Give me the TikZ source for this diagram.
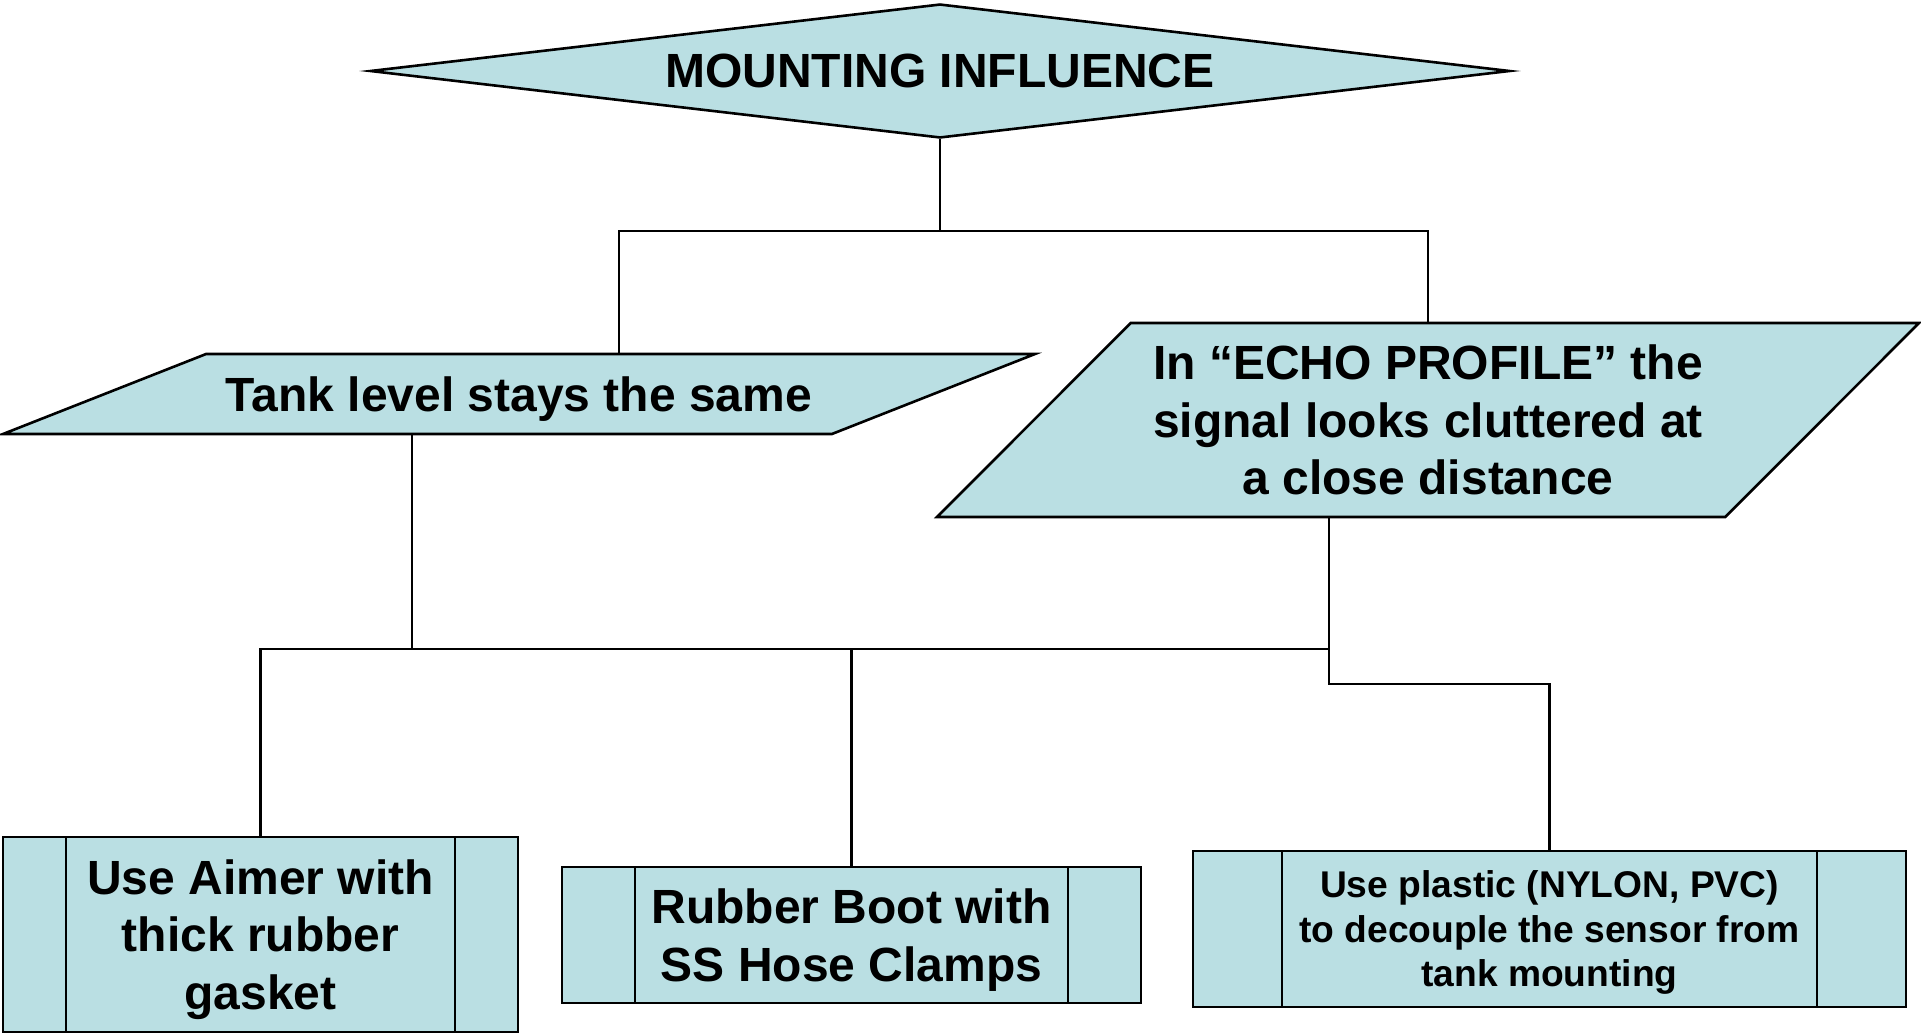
\documentclass[tikz,border=0pt]{standalone}
\usepackage{fontspec}
\setmainfont{Liberation Sans}
\usepackage{tikz}
\usetikzlibrary{shapes.geometric, positioning}
\definecolor{lysbla}{RGB}{186,223,227}

\begin{document}
\begin{tikzpicture}[
x=1pt, y=-1pt,
every node/.append style = {inner sep=0pt, align=center,
                            font=\bfseries\fontsize{48}{57.5}\selectfont},
  romb/.style = {diamond, draw, line width=2.6pt, fill=lysbla,
                 shape aspect=8.5, minimum width=1140, minimum height=134},
parall/.style = {trapezium, draw, line width=2.6pt, fill=lysbla,
                 trapezium stretches body},
  boks/.style = {rectangle, draw, line width=2.6pt, fill=lysbla,
                 text depth=0pt,
                 path picture={\draw[line width=2.2pt]
                   ([xshift=#1]path picture bounding box.north west) --
                   ([xshift=#1]path picture bounding box.south west)
                   ([xshift=-#1]path picture bounding box.north east) --
                   ([xshift=-#1]path picture bounding box.south east);}},
 linje/.style = {line width=2.1pt}
                    ]
\useasboundingbox (0,0) rectangle (1921,1034);
%nodes
\node (infl)    [romb] at (940,71)             {MOUNTING INFLUENCE};
\node (tank)    [parall,
                 trapezium left angle=21.5, trapezium right angle=158.5,
                 text height=57.2pt, text depth=22.8pt,
                 minimum width=1032, minimum height=80]
                at (519,394)                   {Tank level stays the same};
\node (echo)    [parall,
                 trapezium left angle=37.8, trapezium right angle=142.2,
                 minimum width=982, minimum height=194]
                at (1428,420)                  {In “ECHO PROFILE” the\\
                                                signal looks cluttered at\\
                                                a close distance};
%
\node (aimer)   [boks=63pt, minimum width=515, minimum height=195]
                at (260.5,934.5)               {Use Aimer with\\thick rubber\\gasket};
\node (boot)    [boks=73pt, minimum width=579, minimum height=136]
                at (851.5,935)                 {Rubber Boot with\\SS Hose Clamps};
\node (plastic) [boks=89pt, minimum width=713, minimum height=156,
                 font=\bfseries\fontsize{37.2}{44.5}\selectfont]
                at (1549.5,929)                {Use plastic (NYLON, PVC)\\
                                                to decouple the sensor from\\
                                                tank mounting};
% edges
\coordinate (navA)  at (940,231);
\coordinate (grenV) at (619,231);
\coordinate (navB)  at (412,649);
\coordinate (navC)  at (1329,649);
\coordinate (knekk) at (1550,684);
\draw[linje] (infl.south) -- (navA);
\draw[linje] (grenV |- tank.north) -- (grenV) -- (echo.north |- navA) -- (echo.north);
\draw[linje] (navB |- tank.south) -- (navB);
\draw[linje] (aimer.north) -- (aimer.north |- navB) -- (navC);
\draw[linje] (boot.north) -- (boot.north |- navB);
\draw[linje] (navC |- echo.south) -- (navC) |- (plastic.north |- knekk) -- (plastic.north);
\end{tikzpicture}
\end{document}
